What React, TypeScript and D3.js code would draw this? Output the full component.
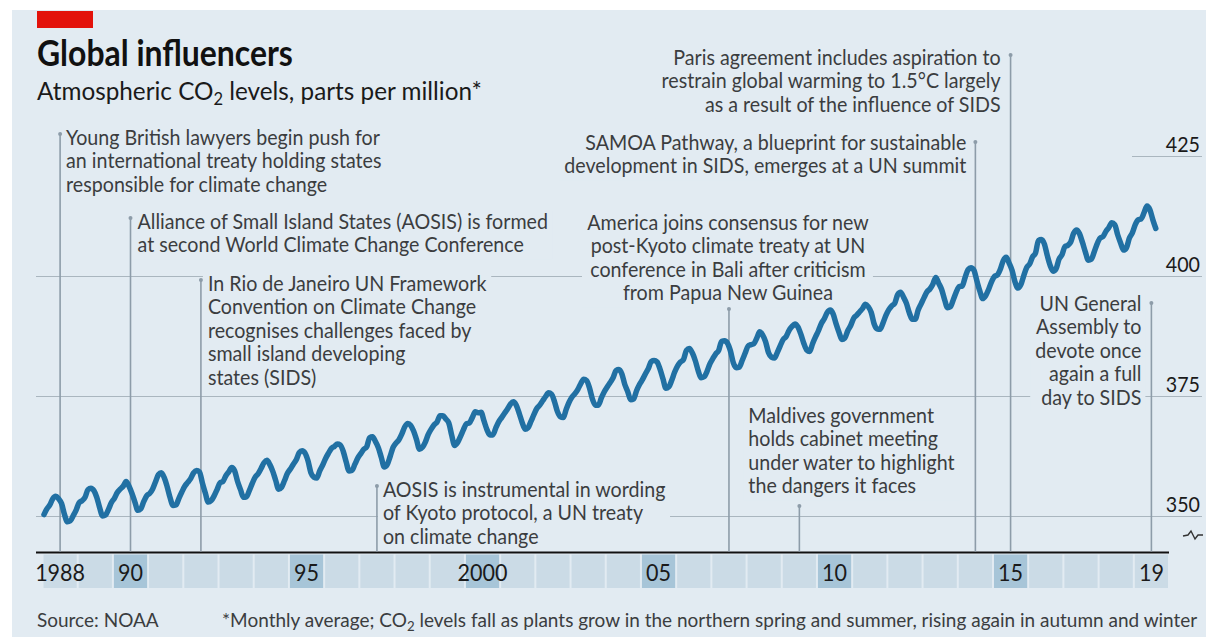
import React, { useMemo } from 'react';
import * as d3 from 'd3';

// ---------- DATA ----------
const startYear = 1988;
// Monthly average CO2 (ppm), Jan 1988 – Aug 2019
const co2Monthly: number[] = [
  350.4, 351.6, 352.4, 353.7, 354.2, 353.7, 352.7, 350.4, 348.9, 349.1, 350.2, 351.4,
  352.9, 353.3, 354.0, 355.6, 355.9, 355.4, 354.0, 351.8, 350.1, 350.3, 351.5, 352.9,
  353.8, 355.0, 355.7, 356.3, 357.3, 356.3, 354.8, 353.0, 351.3, 351.6, 353.1, 354.3,
  354.8, 355.7, 357.2, 358.7, 359.1, 358.1, 356.2, 353.9, 352.3, 352.4, 353.8, 355.1,
  356.3, 357.1, 357.9, 359.1, 359.6, 359.3, 357.0, 354.9, 353.0, 353.3, 354.3, 355.6,
  357.0, 357.3, 358.5, 359.3, 360.2, 359.5, 357.3, 355.6, 354.0, 354.1, 355.4, 356.9,
  358.2, 358.9, 360.0, 361.2, 361.7, 360.8, 359.4, 357.5, 355.7, 356.1, 357.5, 359.0,
  359.9, 360.9, 361.8, 363.3, 363.7, 363.2, 361.6, 359.1, 358.2, 358.0, 359.5, 360.7,
  362.1, 363.2, 364.2, 364.6, 365.1, 364.9, 363.6, 361.4, 359.5, 359.6, 360.9, 362.2,
  363.1, 364.0, 364.5, 366.4, 366.6, 365.6, 364.3, 362.3, 360.3, 360.8, 362.5, 364.4,
  365.3, 366.0, 367.2, 368.7, 369.4, 369.0, 367.8, 366.0, 364.0, 364.4, 365.5, 367.1,
  368.2, 369.1, 369.7, 371.0, 371.0, 370.3, 369.5, 366.9, 364.8, 365.4, 366.7, 368.1,
  369.3, 369.5, 370.6, 371.8, 371.6, 371.7, 369.9, 368.1, 367.0, 367.0, 368.4, 369.7,
  370.6, 371.5, 372.4, 373.4, 373.9, 373.2, 371.5, 369.6, 368.2, 368.5, 369.8, 371.2,
  372.5, 373.2, 374.1, 375.0, 375.8, 375.5, 374.0, 371.9, 370.8, 370.6, 372.3, 373.8,
  374.9, 375.6, 376.5, 377.7, 378.6, 378.3, 376.7, 374.4, 373.2, 373.2, 374.7, 376.0,
  377.0, 377.9, 378.9, 380.4, 380.6, 379.7, 377.5, 376.0, 374.3, 374.5, 376.2, 377.5,
  378.5, 379.7, 380.8, 382.3, 382.5, 382.2, 380.7, 378.7, 376.7, 377.0, 378.4, 380.1,
  381.4, 382.2, 382.7, 384.6, 385.0, 384.1, 382.5, 380.4, 378.9, 379.1, 380.2, 381.8,
  382.9, 383.9, 384.6, 386.5, 386.6, 386.1, 384.5, 382.0, 381.0, 381.1, 382.5, 384.0,
  385.5, 385.8, 386.0, 387.2, 388.5, 387.8, 386.4, 384.1, 383.2, 383.0, 384.2, 385.6,
  386.9, 387.5, 388.8, 389.6, 390.1, 389.5, 388.0, 386.1, 384.7, 384.4, 386.0, 387.4,
  388.7, 390.2, 391.2, 392.5, 393.0, 392.2, 390.2, 388.4, 386.9, 387.2, 388.7, 389.8,
  391.3, 391.9, 392.6, 393.3, 394.2, 393.7, 392.5, 390.1, 389.1, 389.0, 390.3, 391.9,
  393.1, 393.9, 394.4, 396.2, 396.7, 395.7, 394.4, 392.4, 391.1, 391.1, 393.0, 394.3,
  395.6, 396.8, 397.4, 398.4, 399.8, 398.6, 397.3, 395.2, 393.5, 393.7, 395.2, 396.8,
  397.9, 398.0, 399.8, 401.4, 401.8, 401.3, 399.1, 397.0, 395.4, 396.0, 397.3, 398.9,
  400.0, 400.3, 401.5, 403.3, 404.0, 402.8, 401.3, 398.9, 397.6, 398.3, 400.2, 401.9,
  402.6, 404.1, 404.9, 407.5, 407.7, 406.8, 404.4, 402.3, 401.1, 401.6, 403.6, 404.5,
  406.2, 406.5, 407.2, 409.0, 409.7, 408.9, 407.1, 405.1, 403.4, 403.6, 405.1, 406.8,
  408.0, 408.3, 409.4, 410.2, 411.2, 410.8, 408.7, 407.0, 405.5, 406.0, 408.0, 409.1,
  410.8, 411.8, 412.0, 413.3, 414.7, 413.9, 411.8, 410.0,
];

const tickYears = [1988, 1990, 1995, 2000, 2005, 2010, 2015, 2019];
const tickLabels = ['1988', '90', '95', '2000', '05', '10', '15', '19'];
const highlightYears = [1990, 1995, 2000, 2005, 2010, 2015];
const axisStart = 1988;
const axisEnd = 2020;
const yTicks = [350, 375, 400, 425];

const eventYears = [1988, 1990, 1992, 1997, 2007, 2009, 2014, 2015, 2019];
const eventTexts: string[][] = [
  ['Young British lawyers begin push for', 'an international treaty holding states', 'responsible for climate change'],
  ['Alliance of Small Island States (AOSIS) is formed', 'at second World Climate Change Conference'],
  ['In Rio de Janeiro UN Framework', 'Convention on Climate Change', 'recognises challenges faced by', 'small island developing', 'states (SIDS)'],
  ['AOSIS is instrumental in wording', 'of Kyoto protocol, a UN treaty', 'on climate change'],
  ['America joins consensus for new', 'post-Kyoto climate treaty at UN', 'conference in Bali after criticism', 'from Papua New Guinea'],
  ['Maldives government', 'holds cabinet meeting', 'under water to highlight', 'the dangers it faces'],
  ['SAMOA Pathway, a blueprint for sustainable', 'development in SIDS, emerges at a UN summit'],
  ['Paris agreement includes aspiration to', 'restrain global warming to 1.5°C largely', 'as a result of the influence of SIDS'],
  ['UN General', 'Assembly to', 'devote once', 'again a full', 'day to SIDS'],
];

// ---------- LAYOUT / STYLE ----------
const W = 1206;
const H = 637;
const FONT = 'Lato';
const BG = '#e2ebf2';
const CELL = '#cbdbe6';
const CELL_HI = '#a7c5d8';
const LINE = '#2170a3';
const VLINE = '#8d9ca9';
const GRID = '#aab6bf';
const TXT = '#3b3d3f';

// per-event label layout: anchor, text offset from the event line, first baseline, top of the stem
const eventLayout = [
  { anchor: 'start', dx: 6, b0: 145, top: 134 },
  { anchor: 'start', dx: 7, b0: 229, top: 218 },
  { anchor: 'start', dx: 7, b0: 291, top: 280 },
  { anchor: 'start', dx: 6, b0: 497, top: 486 },
  { anchor: 'middle', dx: -1, b0: 230, top: 309 },
  { anchor: 'start', dx: -51, b0: 423, top: 506 },
  { anchor: 'end', dx: -9, b0: 150, top: 142 },
  { anchor: 'end', dx: -10, b0: 65, top: 55 },
  { anchor: 'end', dx: -10, b0: 311, top: 303 },
];
const LH = 23.4;

let ctx: CanvasRenderingContext2D | null = null;
function textW(s: string, size: number, weight = 400) {
  if (!ctx) ctx = document.createElement('canvas').getContext('2d');
  if (!ctx) return s.length * size * 0.5;
  ctx.font = `${weight} ${size}px ${FONT}`;
  return ctx.measureText(s).width;
}

type TProps = {
  x: number; y: number; size: number; sx: number; weight?: number;
  anchor?: string; fill?: string; children: React.ReactNode;
};
const T = ({ x, y, size, sx, weight = 400, anchor = 'start', fill = TXT, children }: TProps) => (
  <text
    transform={`translate(${x},${y}) scale(${sx},1)`}
    fontFamily={FONT}
    fontSize={size}
    fontWeight={weight}
    textAnchor={anchor as any}
    fill={fill}
  >
    {children}
  </text>
);

export default function App() {
  const x = d3.scaleLinear().domain([axisStart, axisEnd]).range([42.5, 1169]);
  const y = d3.scaleLinear().domain([350, 425]).range([516.5, 156.5]);

  const sc = useMemo(() => {
    const ann = 314 / textW('Young British lawyers begin push for', 21);
    const title = 256 / textW('Global influencers', 37, 700);
    const sub = 450 / textW('Atmospheric CO2 levels, parts per million*', 25);
    const foot = 980 / textW('*Monthly average; CO2 levels fall as plants grow in the northern spring and summer, rising again in autumn and winter', 20);
    return { ann, title, sub, foot };
  }, []);

  const line = d3
    .line<number>()
    .x((_, i) => x(startYear + (i + 0.5) / 12))
    .y((d) => y(d))
    .curve(d3.curveMonotoneX);

  const bandYears = d3.range(axisStart, axisEnd);
  const baseY = 552.5;

  return (
    <svg width={W} height={H} style={{ position: 'absolute', left: 0, top: 0 }}>
      <rect x={0} y={0} width={W} height={H} fill="#ffffff" />
      <rect x={12} y={10} width={W - 12} height={H - 10} fill={BG} />
      <rect x={37} y={11} width={56} height={17} fill="#e3120b" />

      {/* gridlines */}
      {yTicks.map((t) => (
        <line key={t} x1={t === 425 ? 1132 : 36} x2={1202} y1={y(t)} y2={y(t)} stroke={GRID} strokeWidth={1} />
      ))}

      {/* knockout boxes behind annotation text */}
      {eventTexts.map((lines, i) => {
        const L = eventLayout[i];
        const lx = x(eventYears[i] + 0.5) + L.dx;
        const w = Math.max(...lines.map((s) => textW(s, 21))) * sc.ann;
        const x0 = L.anchor === 'start' ? lx : L.anchor === 'end' ? lx - w : lx - w / 2;
        return (
          <rect key={i} x={x0 - 5} y={L.b0 - 18} width={w + 9} height={(lines.length - 1) * LH + 25} fill={BG} />
        );
      })}

      {/* year band */}
      {bandYears.map((yr) => (
        <rect
          key={yr}
          x={x(yr) + 1}
          y={554.5}
          width={x(yr + 1) - x(yr) - 2}
          height={33.5}
          fill={highlightYears.includes(yr) ? CELL_HI : CELL}
        />
      ))}
      <line x1={36} x2={x(axisEnd)} y1={baseY} y2={baseY} stroke="#111" strokeWidth={2} />

      {/* event stems */}
      {eventYears.map((yr, i) => {
        const lx = x(yr + 0.5);
        const top = eventLayout[i].top;
        return (
          <g key={i}>
            <line x1={lx} x2={lx} y1={top} y2={baseY - 1} stroke={VLINE} strokeWidth={1.6} />
            <circle cx={lx} cy={top} r={2} fill={VLINE} />
          </g>
        );
      })}

      {/* CO2 line */}
      <path d={line(co2Monthly) || ''} fill="none" stroke={LINE} strokeWidth={5.5} strokeLinejoin="round" strokeLinecap="round" />

      {/* annotation text */}
      {eventTexts.map((lines, i) => {
        const L = eventLayout[i];
        const lx = x(eventYears[i] + 0.5) + L.dx;
        return lines.map((s, j) => (
          <T key={`${i}-${j}`} x={lx} y={L.b0 + j * LH} size={21} sx={sc.ann} anchor={L.anchor}>
            {s}
          </T>
        ));
      })}

      {/* y-axis labels */}
      {yTicks.map((t) => (
        <T key={t} x={1200} y={y(t) - 5} size={21} sx={sc.ann} anchor="end" fill="#1a1a1a">
          {t}
        </T>
      ))}
      <path d="M1183,536 L1188,535 L1191,531 L1195,539 L1198,535 L1203,535" fill="none" stroke="#333" strokeWidth={1.4} />

      {/* x-axis labels */}
      {tickYears.map((yr, i) => (
        <T key={yr} x={x(yr + 0.5)} y={581} size={23} sx={sc.ann} anchor="middle" fill="#1a1a1a">
          {tickLabels[i]}
        </T>
      ))}

      {/* titles */}
      <T x={37} y={66} size={37} sx={sc.title} weight={700} fill="#111">
        Global influencers
      </T>
      <T x={37} y={100} size={25} sx={sc.sub} fill="#1a1a1a">
        Atmospheric CO<tspan fontSize={17} dy={5}>2</tspan>
        <tspan dy={-5}> levels, parts per million*</tspan>
      </T>

      {/* footer */}
      <T x={37} y={627} size={20} sx={sc.foot}>
        Source: NOAA
      </T>
      <T x={222} y={627} size={20} sx={sc.foot}>
        *Monthly average; CO<tspan fontSize={14} dy={4}>2</tspan>
        <tspan dy={-4}> levels fall as plants grow in the northern spring and summer, rising again in autumn and winter</tspan>
      </T>
    </svg>
  );
}
